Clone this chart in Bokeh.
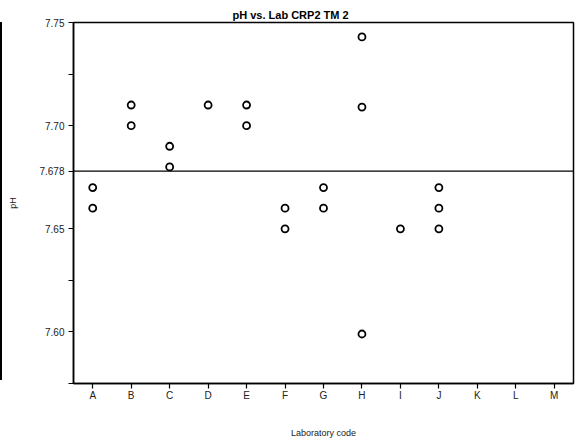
from bokeh.plotting import figure
from bokeh.models import Span, Title, FixedTicker
from bokeh.embed import file_html
from bokeh.resources import INLINE

labs = ["A", "B", "C", "D", "E", "F", "G", "H", "I", "J", "K", "L", "M"]
point_lab = ["A", "A", "B", "B", "C", "C", "D", "E", "E", "F", "F", "G", "G",
             "H", "H", "H", "I", "J", "J", "J"]
point_ph = [7.67, 7.66, 7.71, 7.70, 7.69, 7.68, 7.71, 7.71, 7.70, 7.66, 7.65, 7.67, 7.66,
            7.743, 7.709, 7.599, 7.65, 7.67, 7.66, 7.65]
ref_value = 7.678
y_ticks = [7.575, 7.60, 7.625, 7.65, 7.678, 7.70, 7.725, 7.75]
y_labels = {7.575: "", 7.60: "7.60", 7.625: "", 7.65: "7.65", 7.678: "7.678",
            7.70: "7.70", 7.725: "", 7.75: "7.75"}

FONT = "Liberation Sans"

p = figure(width=577, height=444, x_range=labs, y_range=(7.575, 7.75),
           output_backend="svg", toolbar_location=None,
           min_border_left=73, min_border_right=4, min_border_top=22, min_border_bottom=61)
p.title = None
p.add_layout(Title(text="pH vs. Lab CRP2 TM 2", align="left", offset=159,
                   text_font=FONT, text_font_size="11px", text_font_style="bold",
                   text_color="black", standoff=3), "above")
p.x_range.range_padding = 0
p.grid.visible = False
p.outline_line_color = "black"
p.outline_line_width = 1.5
p.outline_line_alpha = 1
p.background_fill_color = "white"
p.border_fill_color = "white"

p.scatter(point_lab, point_ph, marker="circle", size=7, fill_color="white",
          line_color="black", line_width=1.8)

p.add_layout(Span(location=ref_value, dimension="width", line_color="black", line_width=1.3))

p.yaxis.ticker = FixedTicker(ticks=y_ticks)
p.yaxis.major_label_overrides = y_labels
p.yaxis.minor_tick_line_color = None
for ax in (p.xaxis, p.yaxis):
    ax.axis_line_color = "black"
    ax.axis_line_width = 1.5
    ax.major_tick_line_color = "black"
    ax.major_tick_line_width = 1.2
    ax.major_tick_out = 5
    ax.major_tick_in = 0
    ax.major_label_text_font = FONT
    ax.major_label_text_font_size = "10px"
    ax.major_label_text_color = "#222222"
    ax.axis_label_text_font = FONT
    ax.axis_label_text_font_size = "9px"
    ax.axis_label_text_font_style = "normal"
    ax.axis_label_text_color = "#222222"
p.yaxis.axis_label = "pH"
p.yaxis.axis_label_standoff = 18
p.xaxis.axis_label = "Laboratory code"
p.xaxis.axis_label_standoff = 24
p.xaxis.major_label_standoff = 1
p.yaxis.major_label_standoff = 4

p.stylesheets = [":host::before { content: ''; position: absolute; left: 0px; top: 22px; "
                 "width: 1.5px; height: 358px; background: black; z-index: 10; }"]

open("out.html", "w").write(file_html(p, INLINE))
